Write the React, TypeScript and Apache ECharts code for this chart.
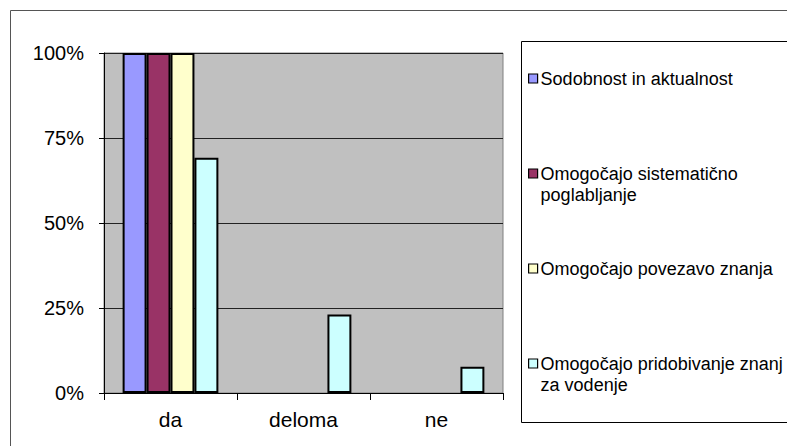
import React, { useEffect, useRef } from "react";
import * as echarts from "echarts";

const categories = ["da", "deloma", "ne"];
const seriesNames = [
  "Sodobnost in aktualnost",
  "Omogočajo sistematično poglabljanje",
  "Omogočajo povezavo znanja",
  "Omogočajo pridobivanje znanj za vodenje",
];
const legendLabels = [
  "Sodobnost in aktualnost",
  "\nOmogočajo sistematično\npoglabljanje",
  "Omogočajo povezavo znanja",
  "\nOmogočajo pridobivanje znanj\nza vodenje",
];
const sodobnost = [100, 0, 0];
const sistematicno = [100, 0, 0];
const povezava = [100, 0, 0];
const vodenje = [69.2, 23.1, 7.7];
const yTicks = [0, 25, 50, 75, 100];
const colors = ["#9999FF", "#993366", "#FFFFCC", "#CCFFFF"];

const FONT = "'Liberation Sans', Arial, sans-serif";

export default function App() {
  const ref = useRef<HTMLDivElement>(null);
  useEffect(() => {
    if (!ref.current) return;
    const chart = echarts.init(ref.current, null, { renderer: "svg" });
    const values = [sodobnost, sistematicno, povezava, vodenje];
    const labelMap: Record<string, string> = {};
    seriesNames.forEach((n, i) => (labelMap[n] = legendLabels[i]));
    chart.setOption({
      animation: false,
      textStyle: { fontFamily: FONT, color: "#000" },
      graphic: [
        {
          type: "rect",
          shape: { x: 10.5, y: 10.5, width: 800, height: 460 },
          style: { fill: "none", stroke: "#555", lineWidth: 1 },
          z: -10,
        },
        {
          type: "rect",
          shape: { x: 521.5, y: 41.5, width: 300, height: 381 },
          style: { fill: "#fff", stroke: "#000", lineWidth: 1 },
          z: -5,
        },
      ],
      grid: {
        left: 104,
        top: 53,
        width: 399,
        height: 340,
        show: true,
        backgroundColor: "#C0C0C0",
        borderColor: "#808080",
        borderWidth: 1,
      },
      legend: {
        orient: "vertical",
        left: 528,
        top: 68,
        padding: 0,
        itemGap: 53,
        itemWidth: 9,
        itemHeight: 9,
        icon: "rect",
        data: seriesNames,
        formatter: (name: string) => labelMap[name],
        textStyle: { fontSize: 18, lineHeight: 21, color: "#000", fontFamily: FONT, padding: [0, 0, 0, -2] },
        itemStyle: { borderColor: "#000", borderWidth: 1.2 },
      },
      xAxis: {
        type: "category",
        data: categories,
        axisLine: { lineStyle: { color: "#000", width: 1 } },
        axisTick: { show: true, length: 7, lineStyle: { color: "#000" } },
        axisLabel: { fontSize: 21, color: "#000", margin: 16, fontFamily: FONT },
      },
      yAxis: {
        type: "value",
        min: 0,
        max: 100,
        interval: 25,
        axisLine: { show: true, lineStyle: { color: "#000", width: 1 } },
        axisTick: { show: true, length: 5, lineStyle: { color: "#000" } },
        axisLabel: {
          fontSize: 20,
          color: "#000",
          margin: 20,
          fontFamily: FONT,
          formatter: (v: number) => (yTicks.includes(v) ? v + "%" : ""),
        },
        splitLine: { show: true, lineStyle: { color: "#222", width: 1 } },
      },
      series: seriesNames.map((name, i) => ({
        name,
        type: "bar",
        data: values[i].map((v) => (v === 0 ? "-" : v)),
        barGap: "0%",
        barCategoryGap: "28%",
        itemStyle: { color: colors[i], borderColor: "#000", borderWidth: 2 },
      })),
    });
    return () => chart.dispose();
  }, []);
  return (
    <div
      ref={ref}
      style={{ position: "fixed", left: 0, top: 0, width: 787, height: 446, background: "#fff" }}
    />
  );
}
